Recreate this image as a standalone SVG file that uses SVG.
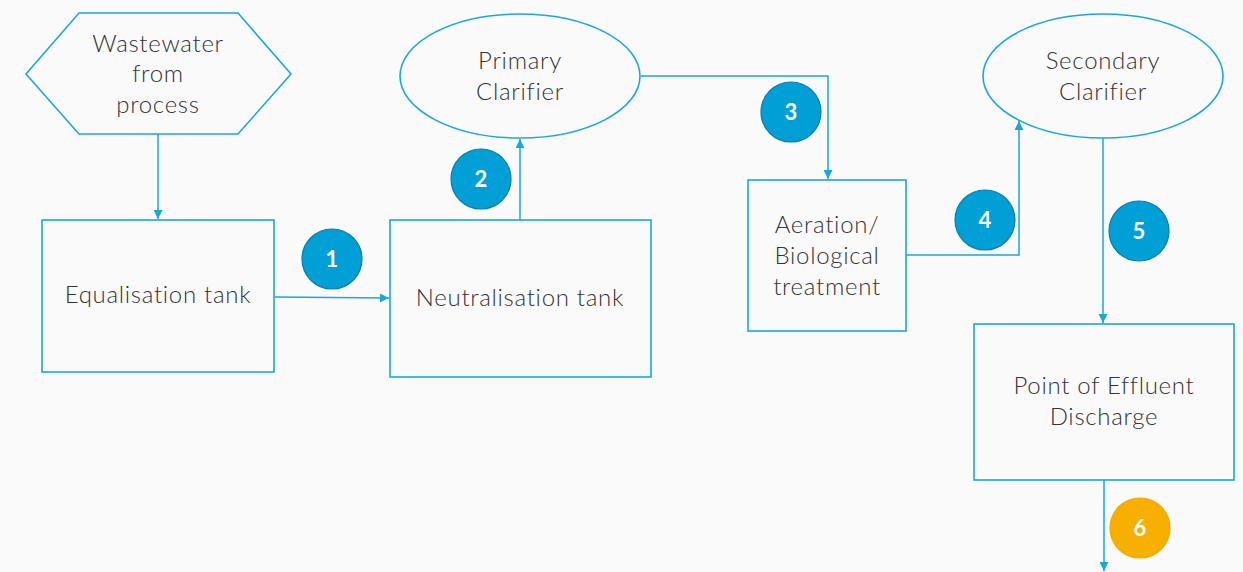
<svg xmlns="http://www.w3.org/2000/svg" width="1243" height="572" viewBox="0 0 1243 572">
  <defs>
    <marker id="arrow" viewBox="0 0 10 10" refX="10" refY="5" markerWidth="9" markerHeight="9" markerUnits="userSpaceOnUse" orient="auto">
      <path d="M0,0 L10,5 L0,10 z" fill="#1aa8dc"/>
    </marker>
    <style>
      .shape { fill: none; stroke: #1aa8dc; stroke-width: 1.6; }
      .label { font-family: Lato, "Liberation Sans", sans-serif; font-size: 24px; font-weight: 300; letter-spacing: 0.7px; fill: #333333; text-anchor: middle; }
      .edge { fill: none; stroke: #1aa8dc; stroke-width: 1.5; marker-end: url(#arrow); }
      .badge { fill: #009fd6; stroke: #0b7fa8; stroke-width: 1.2; }
      .badge-alt { fill: #f7b000; stroke: #f2a800; stroke-width: 1.2; }
      .num { font-family: Lato, "Liberation Sans", sans-serif; font-size: 22px; font-weight: bold; fill: #ffffff; text-anchor: middle; }
    </style>
  </defs>
  <rect width="1243" height="572" fill="#fafafa"/>

  <g id="connectors">
    <path class="edge" d="M158,134 L158,219"/>
    <path class="edge" d="M275,297 L389,298"/>
    <path class="edge" d="M520,220 L520,139"/>
    <path class="edge" d="M641,76 L828,76 L828,179"/>
    <path class="edge" d="M906,255 L1019,255 L1019,121"/>
    <path class="edge" d="M1103,138 L1103,323"/>
    <path class="edge" d="M1104,480 L1104,571"/>
  </g>

  <g id="wastewater">
    <polygon class="shape" points="26,74 79,13 238,13 291,74 238,134 79,134"/>
    <text class="label" x="158" y="52">Wastewater</text>
    <text class="label" x="158" y="82">from</text>
    <text class="label" x="158" y="113">process</text>
  </g>

  <g id="equalisation">
    <rect class="shape" x="42" y="220" width="232" height="152"/>
    <text class="label" x="158" y="303">Equalisation tank</text>
  </g>

  <g id="neutralisation">
    <rect class="shape" x="390" y="220" width="261" height="157"/>
    <text class="label" x="520" y="306">Neutralisation tank</text>
  </g>

  <g id="primary-clarifier">
    <ellipse class="shape" cx="520" cy="76" rx="120" ry="62"/>
    <text class="label" x="520" y="69">Primary</text>
    <text class="label" x="520" y="100">Clarifier</text>
  </g>

  <g id="aeration">
    <rect class="shape" x="748" y="180" width="158" height="151"/>
    <text class="label" x="827" y="233">Aeration/</text>
    <text class="label" x="827" y="264">Biological</text>
    <text class="label" x="827" y="295">treatment</text>
  </g>

  <g id="secondary-clarifier">
    <ellipse class="shape" cx="1103" cy="76" rx="120" ry="62"/>
    <text class="label" x="1103" y="69">Secondary</text>
    <text class="label" x="1103" y="100">Clarifier</text>
  </g>

  <g id="discharge">
    <rect class="shape" x="974" y="324" width="260" height="156"/>
    <text class="label" x="1104" y="394">Point of Effluent</text>
    <text class="label" x="1104" y="425">Discharge</text>
  </g>

  <g id="badge-1">
    <circle class="badge" cx="332" cy="259" r="30"/>
    <text class="num" x="332" y="267">1</text>
  </g>
  <g id="badge-2">
    <circle class="badge" cx="481" cy="179" r="30"/>
    <text class="num" x="481" y="187">2</text>
  </g>
  <g id="badge-3">
    <circle class="badge" cx="791" cy="112" r="30"/>
    <text class="num" x="791" y="120">3</text>
  </g>
  <g id="badge-4">
    <circle class="badge" cx="985" cy="220" r="30"/>
    <text class="num" x="985" y="228">4</text>
  </g>
  <g id="badge-5">
    <circle class="badge" cx="1139" cy="231" r="30"/>
    <text class="num" x="1139" y="239">5</text>
  </g>
  <g id="badge-6">
    <circle class="badge-alt" cx="1140" cy="528" r="30"/>
    <text class="num" x="1140" y="536">6</text>
  </g>
</svg>
